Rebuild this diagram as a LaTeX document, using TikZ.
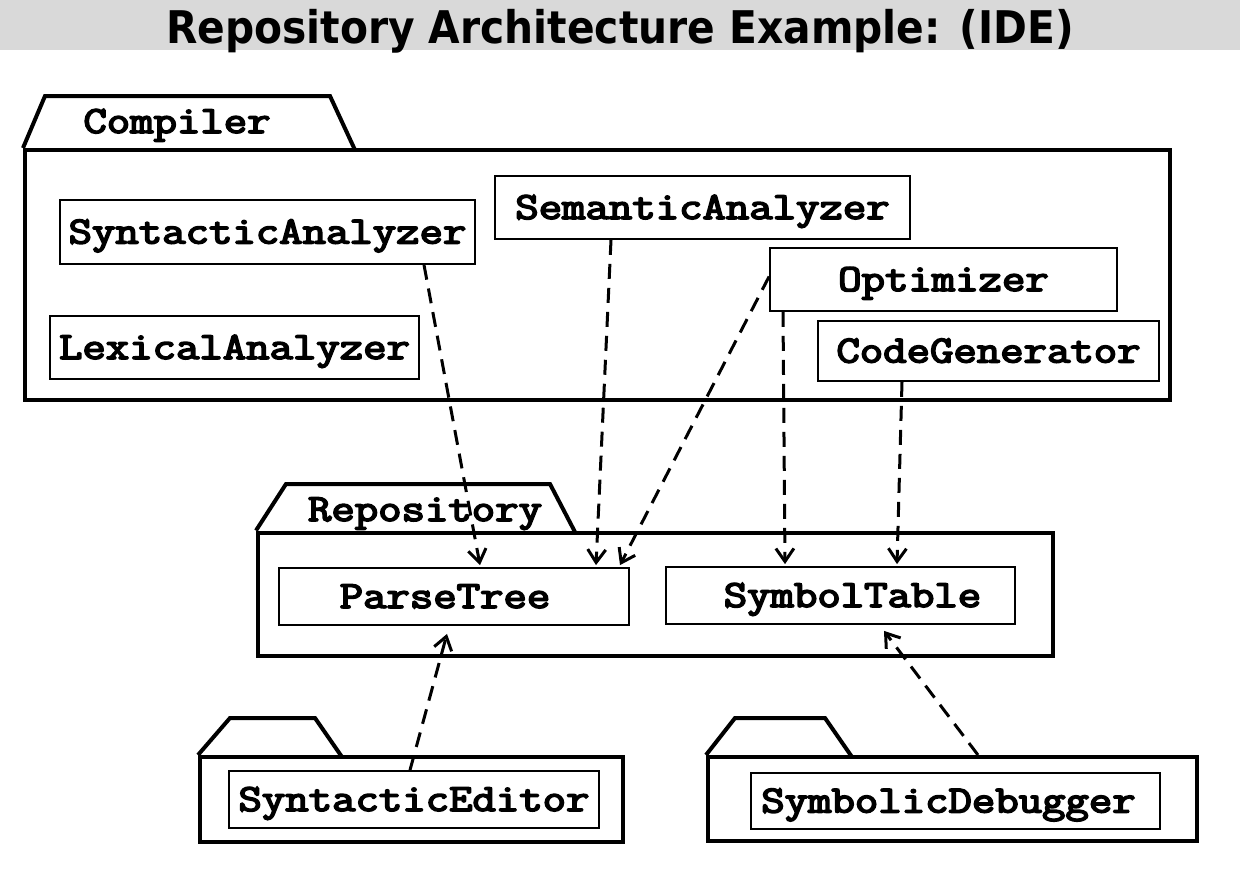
\documentclass[tikz,border=0pt]{standalone}
\usepackage{fontspec}
\usepackage{graphicx}
\setmainfont{DejaVu Sans}
\newfontfamily\heavymono{Latin Modern Mono}[FakeBold=4]
\usetikzlibrary{arrows.meta}
\definecolor{titlegray}{HTML}{D9D9D9}
\newcommand\cname[1]{\scalebox{1.18}[1]{#1}}
\tikzset{
  cls/.style={draw, line width=1.8pt, inner sep=0pt, text height=23pt, text depth=0pt, font=\fontsize{38.5}{40}\selectfont\heavymono},
  pkgbody/.style={draw, line width=4pt, inner sep=0pt},
  pkgline/.style={line width=4pt, line join=miter},
  tablabel/.style={font=\fontsize{38.5}{40}\selectfont\heavymono, inner sep=0pt, anchor=base},
  dep/.style={line width=3pt, dash pattern=on 15pt off 9pt, -{Straight Barb[length=13pt,width=18pt,line width=3pt]}}
}
\begin{document}
\begin{tikzpicture}[x=1pt,y=-1pt]
\useasboundingbox (0,0) rectangle (1240,878);
% title bar
\fill[titlegray] (0,0) rectangle (1240,50);
\node[anchor=base, inner sep=0pt, font=\bfseries\fontsize{45}{47}\selectfont] (title) at (620,43) {\resizebox{908pt}{\height}{Repository Architecture Example: (IDE)}};

% packages
\node[pkgbody, minimum width=1145pt, minimum height=250pt] (compiler) at (597.5,275) {};
\draw[pkgline] (compiler.north west) -- (45,96) -- (330,96) -- (355,150);
\node[tablabel] (compilerlbl) at (177,133) {\cname{Compiler}};

\node[pkgbody, minimum width=795pt, minimum height=123pt] (repo) at (655.5,594) {};
\draw[pkgline] (repo.north west) -- (286,484) -- (550,484) -- (575,532);
\node[tablabel] (repolbl) at (425,521) {\cname{Repository}};

\node[pkgbody, minimum width=423pt, minimum height=85pt] (sepkg) at (411.5,799.5) {};
\draw[pkgline] (sepkg.north west) -- (230,718) -- (315,718) -- (342,757);

\node[pkgbody, minimum width=489pt, minimum height=84pt] (sdpkg) at (952.5,799) {};
\draw[pkgline] (sdpkg.north west) -- (735,718) -- (825,718) -- (852,757);

% classes
\node[cls, minimum width=415pt, minimum height=64pt] (syn) at (267.5,232) {\cname{SyntacticAnalyzer}};
\node[cls, minimum width=415pt, minimum height=63pt] (sem) at (702.5,207.5) {\cname{SemanticAnalyzer}};
\node[cls, minimum width=347pt, minimum height=63pt] (opt) at (943.5,279.5) {\cname{Optimizer}};
\node[cls, minimum width=369pt, minimum height=63pt] (lex) at (234.5,347.5) {\cname{LexicalAnalyzer}};
\node[cls, minimum width=341pt, minimum height=60pt] (cg) at (988.5,351) {\cname{CodeGenerator}};
\node[cls, minimum width=350pt, minimum height=57pt] (pt) at (454,596.5) {\hspace*{-18pt}\cname{ParseTree}};
\node[cls, minimum width=349pt, minimum height=57pt] (st) at (840.5,595.5) {\hspace*{24pt}\cname{SymbolTable}};
\node[cls, minimum width=370pt, minimum height=57pt] (se) at (414,799.5) {\cname{SyntacticEditor}};
\node[cls, minimum width=409pt, minimum height=56pt] (sd) at (955.5,801) {\hspace*{-14pt}\cname{SymbolicDebugger}};

% dependencies
\draw[dep] ([xshift=156.5pt]syn.south) -- ([xshift=26pt,yshift=2pt]pt.north);
\draw[dep] ([xshift=-91.5pt]sem.south) -- ([xshift=142pt,yshift=2pt]pt.north);
\draw[dep] ([yshift=3pt]opt.west) -- ([xshift=166pt,yshift=2pt]pt.north);
\draw[dep] ([xshift=-160.5pt]opt.south) -- ([xshift=-55.5pt,yshift=2pt]st.north);
\draw[dep] ([xshift=-86.5pt]cg.south) -- ([xshift=56.5pt,yshift=2pt]st.north);
\draw[dep] ([xshift=-4pt]se.north) -- ([xshift=-7pt,yshift=-8pt]pt.south);
\draw[dep] ([xshift=25.5pt]sdpkg.north) -- ([xshift=43.5pt,yshift=-6pt]st.south);
\end{tikzpicture}
\end{document}
